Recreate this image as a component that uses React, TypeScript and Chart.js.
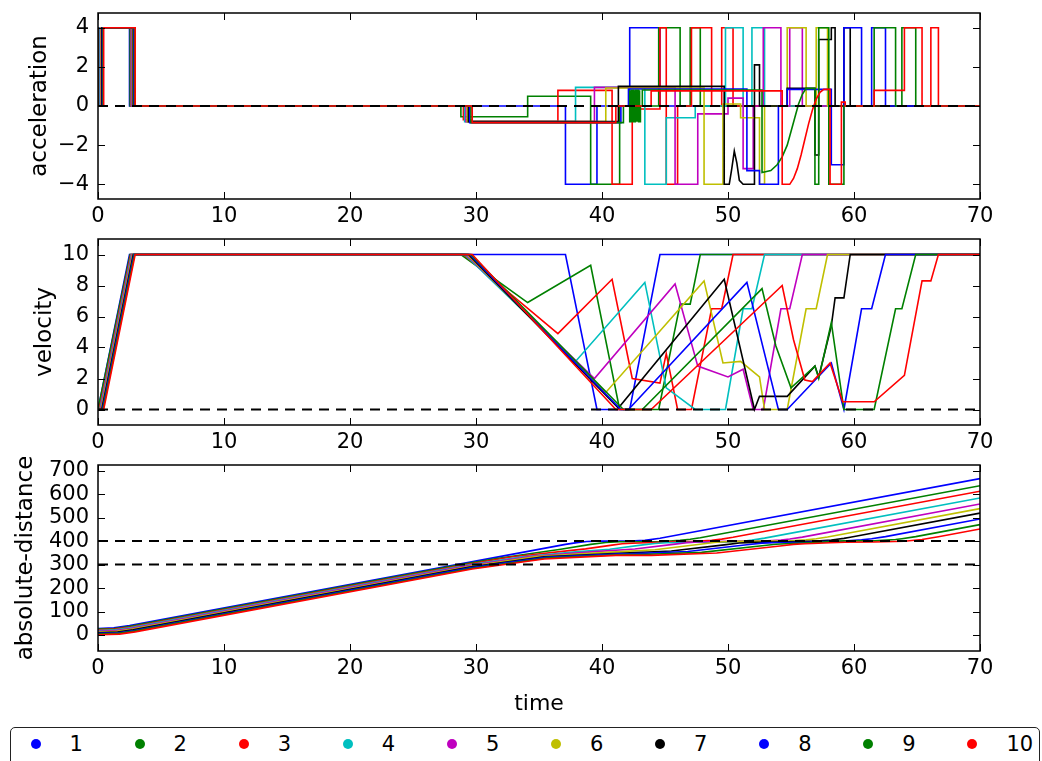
import React, { useEffect, useRef } from "react";
import { Chart, registerables } from "chart.js";

Chart.register(...registerables);

const FONT = '"DejaVu Sans", "Bitstream Vera Sans", sans-serif';

// ---------- legend / series names & colours ----------
const VEHICLES = ["1", "2", "3", "4", "5", "6", "7", "8", "9", "10"];
const COLORS = ["#0000ff", "#008000", "#ff0000", "#00bfbf", "#bf00bf", "#bfbf00", "#000000", "#0000ff", "#008000", "#ff0000"];

// ---------- axes ----------
const X_TICKS = [0, 10, 20, 30, 40, 50, 60, 70];
const ACC_TICKS = [-4, -2, 0, 2, 4];
const VEL_TICKS = [0, 2, 4, 6, 8, 10];
const DIST_TICKS = [0, 100, 200, 300, 400, 500, 600, 700];
const Y_TITLES = ["acceleration", "velocity", "absolute-distance"];
const X_TITLE = "time";

// ---------- dashed reference levels ----------
const ACC_REF = [0];
const VEL_REF = [0];
const DIST_REF = [300, 400];

// ---------- acceleration (time, value) pairs ----------
const ACCEL: number[][] = [
  [0, 4, 2.5, 4, 2.5, 0, 37.1, 0, 37.1, -4, 39.6, -4, 39.6, 0, 42.2, 0, 42.2, 4, 44.6, 4, 44.6, 0, 70, 0],
  [0, 0, 0.05, 0, 0.05, 4, 2.55, 4, 2.55, 0, 28.8, 0, 28.8, -0.55, 34.1, -0.55, 34.1, 0.5, 39.1, 0.5, 39.1, -4, 41.4, -4, 41.4, 0, 44.5, 0, 44.5, 4, 46.2, 4, 46.2, 0, 47.0, 0, 47.0, 4, 47.8, 4, 47.8, 0, 70, 0],
  [0, 0, 0.1, 0, 0.1, 4, 2.6, 4, 2.6, 0, 29.0, 0, 29.0, -0.7, 29.6, -0.7, 29.6, -0.8, 36.5, -0.8, 36.5, 0.8, 40.8, 0.8, 40.8, -4, 42.4, -4, 42.4, -0.15, 44.6, -0.15, 44.6, 4, 45.1, 4, 45.1, -4, 46.0, -4, 46.0, 0, 47.1, 0, 47.1, 4, 48.7, 4, 48.7, 0, 49.5, 0, 49.5, 4, 50.4, 4, 50.4, 0, 70, 0],
  [0, 0, 0.15, 0, 0.15, 4, 2.65, 4, 2.65, 0, 29.1, 0, 29.1, -0.8, 37.9, -0.8, 37.9, 0.95, 43.4, 0.95, 43.4, -4, 45.1, -4, 45.1, -0.6, 47.4, -0.6, 47.4, 0, 49.8, 0, 49.8, 4, 51.2, 4, 51.2, 0, 51.9, 0, 51.9, 4, 52.9, 4, 52.9, 0, 70, 0],
  [0, 0, 0.2, 0, 0.2, 4, 2.7, 4, 2.7, 0, 29.2, 0, 29.2, -0.8, 39.4, -0.8, 39.4, 0.95, 45.8, 0.95, 45.8, -4, 47.6, -4, 47.6, -0.4, 50.0, -0.4, 50.0, 0.4, 51.2, 0.4, 51.2, -3.2, 52.0, -3.2, 52.0, 0, 52.8, 0, 52.8, 4, 54.2, 4, 54.2, 0, 54.9, 0, 54.9, 4, 55.9, 4, 55.9, 0, 70, 0],
  [0, 0, 0.25, 0, 0.25, 4, 2.75, 4, 2.75, 0, 29.3, 0, 29.3, -0.8, 40.3, -0.8, 40.3, 0.92, 48.1, 0.92, 48.1, -4, 49.6, -4, 49.6, 0.1, 51.0, 0.1, 51.0, -0.6, 52.5, -0.6, 52.5, -4, 52.9, -4, 52.9, 0, 54.7, 0, 54.7, 4, 56.2, 4, 56.2, 0, 57.0, 0, 57.0, 4, 57.9, 4, 57.9, 0, 70, 0],
  [0, 0, 0.3, 0, 0.3, 4, 2.8, 4, 2.8, 0, 29.4, 0, 29.4, -0.8, 41.3, -0.8, 41.3, 1.0, 49.7, 1.0, 49.7, -4, 50.1, -4, 50.3, -3.2, 50.5, -2.3, 50.7, -2.9, 50.9, -3.8, 51.2, -4, 52.1, -4, 52.1, 2.1, 52.5, 2.1, 52.5, 0, 54.7, 0, 54.7, 0.9, 56.9, 0.9, 56.9, -2.5, 57.2, -2.5, 57.2, 3.4, 58.2, 3.4, 58.2, 4, 58.5, 4, 58.5, 0, 59.2, 0, 59.2, 4, 59.7, 4, 59.7, 0, 70, 0],
  [0, 0, 0.35, 0, 0.35, 4, 2.85, 4, 2.85, 0, 29.5, 0, 29.5, -0.85, 41.5, -0.85, 41.5, 0, 42.1, 0, 42.1, 0.87, 51.5, 0.87, 51.5, -3.3, 52.5, -3.3, 52.5, -4, 54.0, -4, 54.0, 0, 54.7, 0, 54.7, 0.85, 58.2, 0.85, 58.2, -3, 59.2, -3, 59.2, 4, 60.6, 4, 60.6, 0, 61.4, 0, 61.4, 4, 62.5, 4, 62.5, 0, 70, 0],
  [0, 0, 0.4, 0, 0.4, 4, 2.9, 4, 2.9, 0, 29.6, 0, 29.6, -0.85, 41.7, -0.85, 41.7, 0, 42.2, 0,
    42.2, 0.8, 42.2, -0.8, 42.25, -0.8, 42.25, 0.8, 42.3, 0.8, 42.3, -0.8, 42.35, -0.8, 42.35, 0.8, 42.4, 0.8, 42.4, -0.8,
    42.45, -0.8, 42.45, 0.8, 42.5, 0.8, 42.5, -0.8, 42.55, -0.8, 42.55, 0.8, 42.6, 0.8, 42.6, -0.8, 42.65, -0.8, 42.65, 0.8,
    42.7, 0.8, 42.7, -0.8, 42.75, -0.8, 42.75, 0.8, 42.8, 0.8, 42.8, -0.8, 42.85, -0.8, 42.85, 0.8, 42.9, 0.8, 42.9, -0.8,
    42.95, -0.8, 42.95, 0.8, 43.0, 0.8, 43.0, -0.8, 43.05, -0.8, 43.05, 0,
    43.2, 0, 43.2, 0.82, 52.7, 0.82, 52.7, -3.4, 53.4, -3.3, 53.9, -3.0, 54.3, -2.6, 54.7, -2.0, 55.0, -1.3, 55.3, -0.6, 55.6, 0.1, 55.9, 0.6, 56.2, 0.9, 56.9, 0.9, 56.9, -4, 57.2, -4, 57.2, 4, 58.0, 4, 58.0, -4, 59.2, -4, 59.2, 0, 61.6, 0, 61.6, 4, 63.3, 4, 63.3, 0, 63.8, 0, 63.8, 4, 64.9, 4, 64.9, 0, 70, 0],
  [0, 0, 0.45, 0, 0.45, 4, 2.95, 4, 2.95, 0, 29.7, 0, 29.7, -0.85, 41.1, -0.85, 41.1, 0, 43.9, 0, 43.9, 0.77, 54.3, 0.77, 54.3, -4, 54.9, -4, 55.2, -3.7, 55.5, -3.2, 55.8, -2.5, 56.1, -1.7, 56.4, -0.9, 56.7, -0.2, 57.0, 0.35, 57.3, 0.7, 57.6, 0.85, 58.1, 0.85, 58.1, -4, 59.0, -4, 59.0, 0.2, 59.3, 0.2, 59.3, 0, 61.6, 0, 61.6, 0.8, 64.0, 0.8, 64.0, 4, 65.4, 4, 65.4, 0, 66.1, 0, 66.1, 4, 66.7, 4, 66.7, 0, 70, 0],
];

// ---------- velocity (time, value) ----------
const VELOCITY: number[][] = [
  [0, 0, 2.5, 10, 37.1, 10, 39.6, 0, 42.2, 0, 44.6, 10, 70, 10],
  [0, 0, 0.05, 0, 2.55, 10, 28.8, 10, 34.1, 6.9, 39.1, 9.3, 41.4, 0, 44.5, 0, 46.2, 6.8, 47.0, 6.8, 47.8, 10, 70, 10],
  [0, 0, 0.1, 0, 2.6, 10, 29.0, 10, 36.5, 4.9, 40.8, 8.4, 42.4, 2.0, 44.6, 1.7, 45.1, 3.6, 46.0, 0, 47.1, 0, 48.7, 6.5, 49.5, 6.5, 50.4, 10, 70, 10],
  [0, 0, 0.15, 0, 2.65, 10, 29.1, 10, 37.9, 3.1, 43.4, 8.2, 45.1, 1.4, 47.4, 0, 49.8, 0, 51.2, 6.5, 51.9, 6.5, 52.9, 10, 70, 10],
  [0, 0, 0.2, 0, 2.7, 10, 29.2, 10, 39.4, 2.0, 45.8, 8.1, 47.6, 2.8, 50.0, 2.1, 51.2, 2.6, 52.0, 0, 52.8, 0, 54.2, 6.5, 54.9, 6.5, 55.9, 10, 70, 10],
  [0, 0, 0.25, 0, 2.75, 10, 29.3, 10, 40.3, 1.1, 48.1, 8.3, 49.6, 3.0, 51.0, 3.1, 52.5, 2.1, 52.9, 0, 54.7, 0, 56.2, 6.5, 57.0, 6.5, 57.9, 10, 70, 10],
  [0, 0, 0.3, 0, 2.8, 10, 29.4, 10, 41.3, 0.1, 49.7, 8.4, 52.1, 0, 52.5, 0.85, 54.7, 0.85, 56.9, 2.8, 57.2, 2.1, 58.2, 5.4, 58.5, 7.2, 59.2, 7.2, 59.7, 10, 70, 10],
  [0, 0, 0.35, 0, 2.85, 10, 29.5, 10, 41.5, 0, 42.1, 0, 51.5, 8.2, 54.0, 0, 54.7, 0, 58.2, 3.0, 59.2, 0, 60.6, 6.5, 61.4, 6.5, 62.5, 10, 70, 10],
  [0, 0, 0.4, 0, 2.9, 10, 29.6, 10, 41.7, 0, 43.2, 0, 52.7, 7.8, 53.8, 4.1, 55.0, 1.4, 56.9, 2.8, 57.2, 2.0, 58.2, 5.6, 59.2, 0, 61.6, 0, 63.3, 6.5, 63.8, 6.5, 64.9, 10, 70, 10],
  [0, 0, 0.45, 0, 2.95, 10, 29.7, 10, 41.1, 0, 43.9, 0, 54.3, 8.0, 55.2, 4.5, 56.1, 1.9, 56.7, 1.8, 58.1, 3.0, 59.1, 0.5, 61.6, 0.5, 64.0, 2.2, 65.4, 8.3, 66.1, 8.3, 66.7, 10, 70, 10],
];

// ---------- absolute distance (time, value) ----------
const DISTANCE: number[][] = [
  [0, 28, 1.25, 31, 2.5, 40, 29, 305, 37.1, 386, 38.0, 393.5, 38.8, 398, 39.6, 400, 42.2, 400, 43.4, 403, 44.6, 412, 70, 666],
  [0, 25, 1.3, 28, 2.55, 37.5, 28.8, 300, 31.5, 325, 34.1, 345, 36.6, 364, 39.1, 386, 40.3, 394, 41.4, 397, 44.5, 397, 46.2, 403, 47.0, 408, 47.8, 414, 70, 636],
  [0, 22, 1.35, 25, 2.6, 34.5, 29, 298.5, 32.8, 332, 36.5, 354, 38.7, 367, 40.8, 383, 41.6, 388.5, 42.4, 391, 44.6, 395, 45.1, 396.5, 46.0, 398, 47.1, 398, 48.7, 403, 49.5, 408.5, 50.4, 416, 70, 612],
  [0, 19, 1.4, 22, 2.65, 31.5, 29.1, 296, 33.5, 332.5, 37.9, 354, 40.6, 365.5, 43.4, 385, 44.2, 390, 45.1, 393, 47.4, 395, 49.8, 395, 51.2, 399.5, 51.9, 404, 52.9, 412.5, 70, 583.5],
  [0, 16, 1.45, 19, 2.7, 28.5, 29.2, 293.5, 34.3, 334, 39.4, 355, 42.6, 366, 45.8, 387, 46.7, 393, 47.6, 396, 50, 399, 52, 400, 52.8, 400, 54.2, 404.5, 54.9, 409, 55.9, 417, 70, 558],
  [0, 13, 1.5, 16, 2.75, 25.5, 29.3, 291, 34.8, 334, 40.3, 352, 44.2, 363, 48.1, 388.5, 48.9, 394, 49.6, 397, 51, 399, 52.9, 400, 54.7, 400, 56.2, 405, 57, 410, 57.9, 417.5, 70, 538.5],
  [0, 10, 1.55, 13, 2.8, 22.5, 29.4, 288.5, 35.4, 333.5, 41.3, 348.5, 45.5, 357.5, 49.7, 384, 50.9, 392, 52.1, 394.5, 52.5, 394.7, 54.7, 396.5, 56.9, 400, 57.3, 401, 58.2, 404.5, 58.5, 406.5, 59.2, 411.5, 59.7, 416, 70, 519],
  [0, 7, 1.6, 10, 2.85, 19.5, 29.5, 286, 35.5, 330.5, 41.5, 345.5, 42.1, 345.5, 46.8, 355.5, 51.5, 384.5, 52.7, 391.5, 54, 394, 54.7, 394, 56.5, 395.5, 58.2, 399, 59.2, 400.5, 60.6, 405, 61.4, 410, 62.5, 419, 70, 494],
  [0, 4, 1.65, 7, 2.9, 16.5, 29.6, 283.5, 35.6, 328, 41.7, 343, 43.2, 343, 47.9, 352, 52.7, 380, 53.8, 386.5, 55, 390, 56.9, 394, 57.2, 394.5, 58.2, 398.5, 59.2, 401, 61.6, 401, 63.3, 406.5, 63.8, 410, 64.9, 419, 70, 470],
  [0, 1, 1.7, 4, 2.95, 13.5, 29.7, 281, 35.4, 324, 41.1, 339, 43.9, 339, 49.1, 349.5, 54.3, 380.5, 55.2, 386, 56.1, 389, 56.7, 390, 58.1, 393, 59.3, 395, 61.6, 396, 64, 399.5, 65.4, 407, 66.1, 413, 66.7, 418.5, 70, 451.5],
];

type Pt = { x: number; y: number };

function toPoints(flat: number[]): Pt[] {
  const out: Pt[] = [];
  for (let i = 0; i < flat.length; i += 2) out.push({ x: flat[i], y: flat[i + 1] });
  return out;
}

const fmt = (v: number) => String(v).replace("-", "\u2212");

interface PanelCfg {
  series: number[][];
  yMin: number;
  yMax: number;
  yTicks: number[];
  refs: number[];
  refOrder: number; // lower = drawn on top
  yTitle: string;
  yTitleX: number;
  padTop: number;
  xAxisHeight: number;
  xTitle?: string;
  xTitleY?: number;
}

const PLOT_LEFT = 98;
const PAD_RIGHT = 62;
const TICK_LEN = 7;

function makeDecor(cfg: PanelCfg) {
  return {
    id: "decor",
    afterDatasetsDraw(chart: any) {
      const { ctx, chartArea: a } = chart;
      const xs = chart.scales.x;
      const ys = chart.scales.y;
      ctx.save();
      ctx.strokeStyle = "#000";
      ctx.lineWidth = 1;
      ctx.beginPath();
      xs.ticks.forEach((t: any) => {
        const p = Math.round(xs.getPixelForValue(t.value)) + 0.5;
        ctx.moveTo(p, a.bottom);
        ctx.lineTo(p, a.bottom - TICK_LEN);
        ctx.moveTo(p, a.top);
        ctx.lineTo(p, a.top + TICK_LEN);
      });
      ys.ticks.forEach((t: any) => {
        const p = Math.round(ys.getPixelForValue(t.value)) + 0.5;
        ctx.moveTo(a.left, p);
        ctx.lineTo(a.left + TICK_LEN, p);
        ctx.moveTo(a.right, p);
        ctx.lineTo(a.right - TICK_LEN, p);
      });
      ctx.stroke();
      ctx.lineWidth = 1.5;
      ctx.strokeRect(a.left, a.top, a.right - a.left, a.bottom - a.top);

      ctx.fillStyle = "#000";
      ctx.font = `23px ${FONT}`;
      ctx.textAlign = "center";
      ctx.textBaseline = "alphabetic";
      ctx.save();
      ctx.translate(cfg.yTitleX, (a.top + a.bottom) / 2);
      ctx.rotate(-Math.PI / 2);
      ctx.fillText(cfg.yTitle, 0, 0);
      ctx.restore();
      if (cfg.xTitle && cfg.xTitleY !== undefined) {
        ctx.font = `22px ${FONT}`;
        ctx.fillText(cfg.xTitle, (a.left + a.right) / 2, cfg.xTitleY);
      }
      ctx.restore();
    },
  };
}

function buildChart(canvas: HTMLCanvasElement, cfg: PanelCfg) {
  const n = cfg.series.length;
  const datasets: any[] = cfg.series.map((s, i) => ({
    label: VEHICLES[i],
    data: toPoints(s),
    borderColor: COLORS[i],
    backgroundColor: COLORS[i],
    borderWidth: 1.6,
    pointRadius: 0,
    fill: false,
    tension: 0,
    order: 2 * (n - i) + 10,
  }));
  cfg.refs.forEach((r) => {
    datasets.push({
      label: "ref",
      data: [
        { x: 0, y: r },
        { x: 70, y: r },
      ],
      borderColor: "#000",
      borderWidth: 2,
      borderDash: [10, 7],
      pointRadius: 0,
      fill: false,
      order: cfg.refOrder,
    });
  });

  const tickFont = { family: FONT, size: 21 };

  return new Chart(canvas, {
    type: "line",
    data: { datasets },
    plugins: [makeDecor(cfg)],
    options: {
      responsive: false,
      animation: false,
      devicePixelRatio: 1,
      layout: { padding: { top: cfg.padTop, left: 0, right: PAD_RIGHT, bottom: 0 } },
      plugins: { legend: { display: false }, tooltip: { enabled: false } },
      elements: { point: { radius: 0 } },
      scales: {
        x: {
          type: "linear",
          min: 0,
          max: 70,
          grid: { display: false, drawTicks: false },
          border: { display: false },
          ticks: {
            color: "#000",
            font: tickFont,
            padding: 5,
            maxRotation: 0,
            autoSkip: false,
            callback: (v: any) => fmt(Number(v)),
          },
          afterBuildTicks: (s: any) => {
            s.ticks = X_TICKS.map((v) => ({ value: v }));
          },
          afterFit: (s: any) => {
            s.height = cfg.xAxisHeight;
            s.paddingLeft = 0;
            s.paddingRight = 0;
          },
        },
        y: {
          type: "linear",
          min: cfg.yMin,
          max: cfg.yMax,
          grid: { display: false, drawTicks: false },
          border: { display: false },
          ticks: {
            color: "#000",
            font: tickFont,
            padding: 9,
            autoSkip: false,
            callback: (v: any) => fmt(Number(v)),
          },
          afterBuildTicks: (s: any) => {
            s.ticks = cfg.yTicks.map((v) => ({ value: v }));
          },
          afterFit: (s: any) => {
            s.width = PLOT_LEFT;
            s.paddingTop = 0;
            s.paddingBottom = 0;
          },
        },
      },
    } as any,
  });
}

const PANELS: { top: number; height: number; cfg: PanelCfg }[] = [
  {
    top: 0,
    height: 231,
    cfg: {
      series: ACCEL,
      yMin: -4.75,
      yMax: 4.75,
      yTicks: ACC_TICKS,
      refs: ACC_REF,
      refOrder: 11, // above vehicles 1-9, below vehicle 10
      yTitle: Y_TITLES[0],
      yTitleX: 46,
      padTop: 13,
      xAxisHeight: 32,
    },
  },
  {
    top: 231,
    height: 226,
    cfg: {
      series: VELOCITY,
      yMin: -1,
      yMax: 11,
      yTicks: VEL_TICKS,
      refs: VEL_REF,
      refOrder: 0,
      yTitle: Y_TITLES[1],
      yTitleX: 51,
      padTop: 8,
      xAxisHeight: 32,
    },
  },
  {
    top: 457,
    height: 258,
    cfg: {
      series: DISTANCE,
      yMin: -68,
      yMax: 724,
      yTicks: DIST_TICKS,
      refs: DIST_REF,
      refOrder: 0,
      yTitle: Y_TITLES[2],
      yTitleX: 31.5,
      padTop: 8,
      xAxisHeight: 64,
      xTitle: X_TITLE,
      xTitleY: 253,
    },
  },
];

function Panel({ top, height, cfg }: { top: number; height: number; cfg: PanelCfg }) {
  const ref = useRef<HTMLCanvasElement | null>(null);
  useEffect(() => {
    if (!ref.current) return;
    const chart = buildChart(ref.current, cfg);
    return () => chart.destroy();
  }, []);
  return (
    <canvas
      ref={ref}
      width={1042}
      height={height}
      style={{ position: "absolute", left: 0, top, width: 1042, height }}
    />
  );
}

function Legend() {
  const boxLeft = 10;
  const boxTop = 727;
  const border = 1.5;
  return (
    <div
      style={{
        position: "absolute",
        left: boxLeft,
        top: boxTop,
        width: 1030,
        height: 50,
        border: `${border}px solid #222`,
        borderRadius: 5,
        boxSizing: "border-box",
        background: "#fff",
      }}
    >
      {VEHICLES.map((name, i) => {
        const dotX = 36 + i * 104.1;
        const labelX = 70 + i * 104.1;
        return (
          <React.Fragment key={name}>
            <span
              style={{
                position: "absolute",
                left: dotX - boxLeft - border - 5,
                top: 744 - boxTop - border - 5,
                width: 10,
                height: 10,
                borderRadius: "50%",
                background: COLORS[i],
              }}
            />
            <span
              style={{
                position: "absolute",
                left: labelX - boxLeft - border,
                top: 744 - boxTop - border - 12,
                height: 24,
                lineHeight: "24px",
                fontFamily: FONT,
                fontSize: 21,
                color: "#000",
                whiteSpace: "nowrap",
              }}
            >
              {name}
            </span>
          </React.Fragment>
        );
      })}
    </div>
  );
}

export default function App() {
  return (
    <div
      style={{
        position: "absolute",
        left: 0,
        top: 0,
        width: 1042,
        height: 761,
        overflow: "hidden",
        background: "#fff",
      }}
    >
      {PANELS.map((p, i) => (
        <Panel key={i} top={p.top} height={p.height} cfg={p.cfg} />
      ))}
      <Legend />
    </div>
  );
}
